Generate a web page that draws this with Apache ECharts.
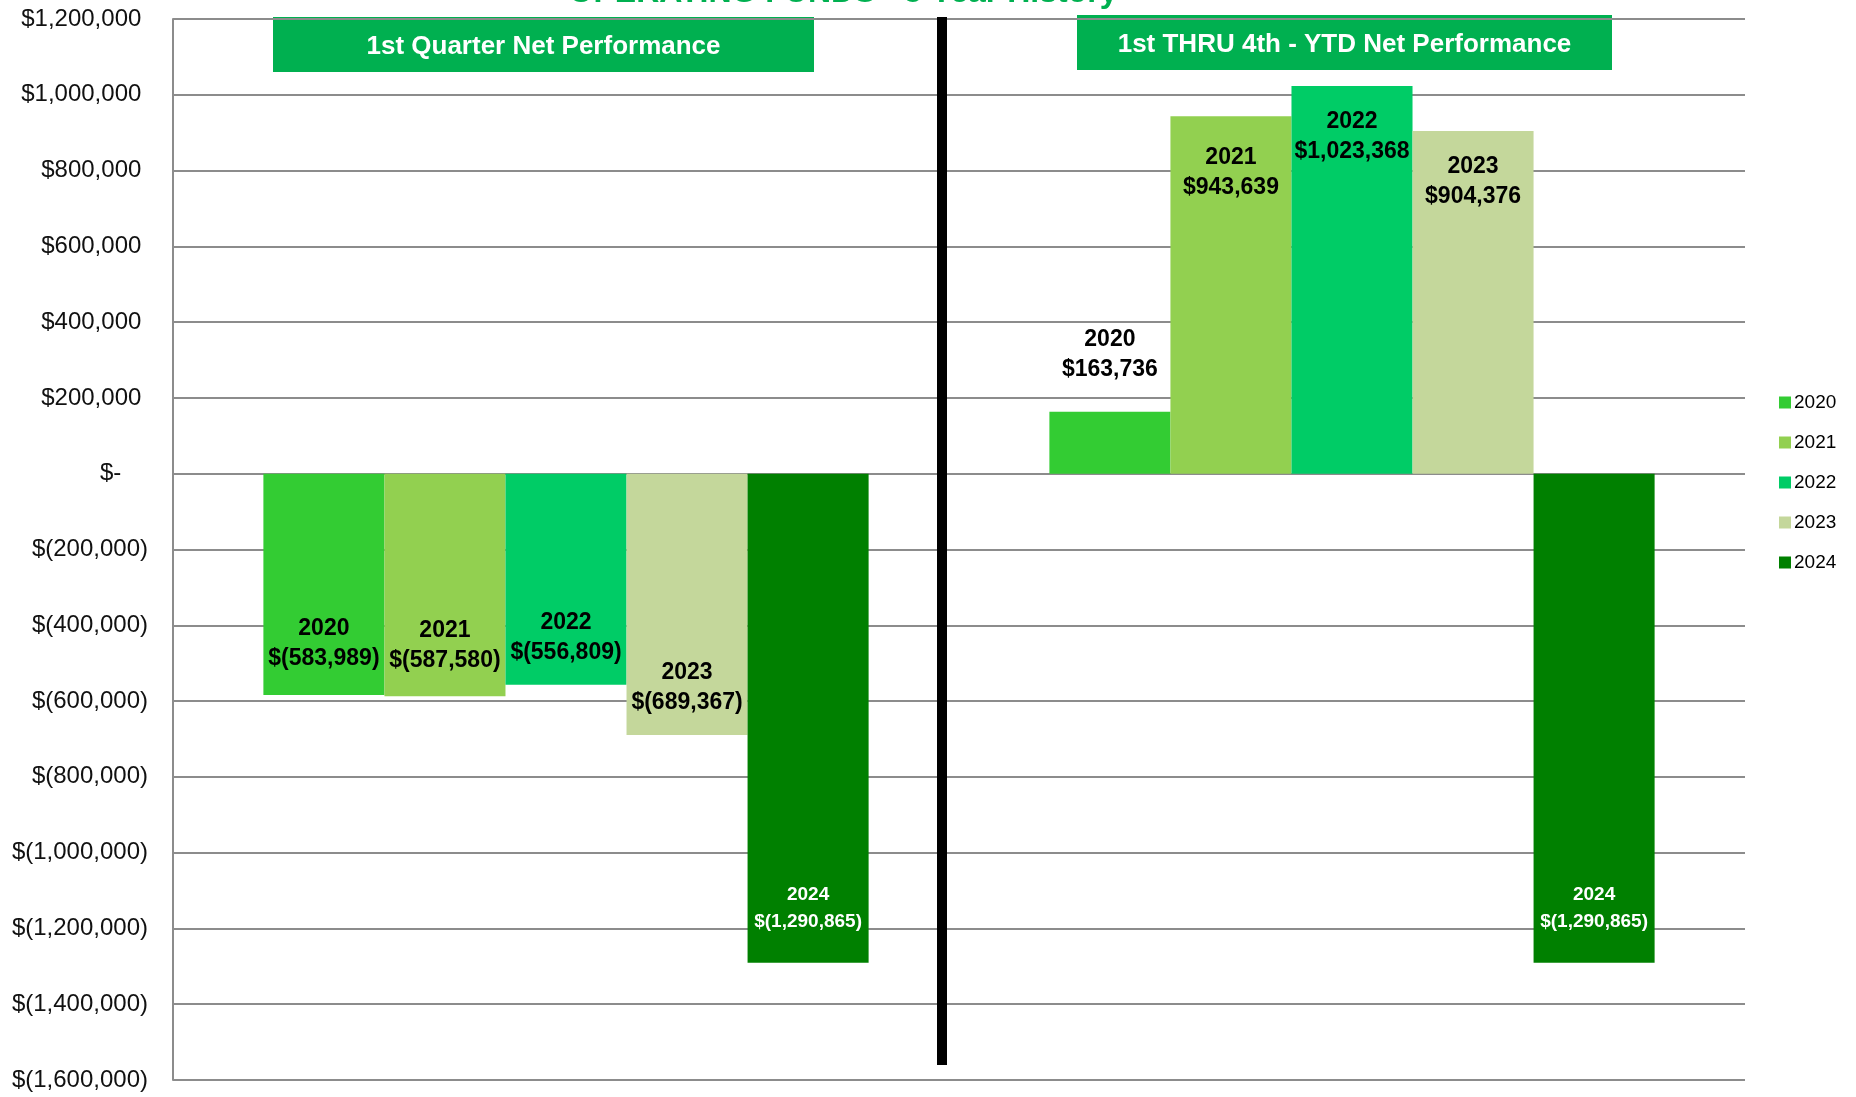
<!DOCTYPE html>
<html>
<head>
<meta charset="utf-8">
<title>Operating Funds - 5 Year History</title>
<script src="https://cdn.jsdelivr.net/npm/echarts@6/dist/echarts.min.js"></script>
<style>
  html, body { margin: 0; padding: 0; background: #fff; }
  #chart { width: 1856px; height: 1097px; }
</style>
</head>
<body>
<div id="chart"></div>
<script>
// ── data ────────────────────────────────────────────────
const periods = ['1st Quarter Net Performance', '1st THRU 4th - YTD Net Performance']
const years   = ['2020', '2021', '2022', '2023', '2024']
const q1Net   = [-583989, -587580, -556809, -689367, -1290865]
const ytdNet  = [163736, 943639, 1023368, 904376, -1290865]
const yTicks  = [1200000, 1000000, 800000, 600000, 400000, 200000, 0,
                 -200000, -400000, -600000, -800000, -1000000, -1200000, -1400000, -1600000]

// ── styles ──────────────────────────────────────────────
const COLORS = ['#33cc33', '#92d050', '#00cc66', '#c4d79b', '#008000']
const GREEN  = '#00b050'
const FONT   = '"Liberation Sans Narrow", "Liberation Sans", Arial, sans-serif'

// Excel accounting style: $1,200,000 / $(200,000) / $-
function money(v) {
  if (v === 0) return '$-'
  const s = Math.abs(v).toLocaleString('en-US')
  return v < 0 ? '$(' + s + ')' : '$' + s
}

function barLabel(v, yi, ci) {
  const dark = yi === 4
  let position = v < 0 ? 'insideBottom' : 'insideTop'
  let distance = dark ? 28 : 21
  if (ci === 1 && yi === 0) { position = 'top'; distance = 27 }
  if (ci === 1 && yi === 1) distance = 27
  if (ci === 0 && (yi === 2 || yi === 3)) distance = 17
  return {
    show: true,
    position,
    distance,
    formatter: years[yi] + '\n' + money(v),
    color: dark ? '#fff' : '#000',
    fontFamily: FONT,
    fontWeight: 'bold',
    fontSize: dark ? 19 : 23,
    lineHeight: dark ? 27 : 30,
  }
}

const series = years.map((y, yi) => ({
  name: y,
  type: 'bar',
  barGap: '0%',
  barCategoryGap: '23%',
  itemStyle: { color: COLORS[yi] },
  data: [q1Net[yi], ytdNet[yi]].map((v, ci) => ({ value: v, label: barLabel(v, yi, ci) })),
}))

const chart = echarts.init(document.getElementById('chart'))
chart.setOption({
  backgroundColor: '#fff',
  animation: false,
  grid: { left: 173, right: 111, top: 19, bottom: 17 },
  legend: {
    orient: 'vertical',
    left: 1774,
    top: 388,
    itemWidth: 12,
    itemHeight: 12,
    itemGap: 21,
    icon: 'rect',
    data: years,
    textStyle: { fontFamily: FONT, fontSize: 19, color: '#000', padding: [0, 0, 0, -2] },
  },
  xAxis: {
    type: 'category',
    data: periods,
    axisLine: { show: false },
    axisTick: { show: false },
    axisLabel: { show: false },
  },
  yAxis: {
    type: 'value',
    min: yTicks[yTicks.length - 1],
    max: yTicks[0],
    interval: 200000,
    axisLine: { show: true, lineStyle: { color: '#8c8c8c', width: 2 } },
    axisTick: { show: false },
    axisLabel: {
      margin: 25,
      fontFamily: FONT,
      fontSize: 24,
      color: '#111',
      formatter: v => v > 0 ? money(v) + ' ' : (v === 0 ? money(v) + '    ' : money(v)),
    },
    splitLine: { lineStyle: { color: '#8c8c8c', width: 2 } },
  },
  graphic: [
    {
      type: 'text', z: 10,
      style: {
        text: 'OPERATING FUNDS - 5 Year History',
        x: 843, y: 9,
        fill: GREEN,
        font: 'bold 32px ' + FONT,
        textAlign: 'center',
        textVerticalAlign: 'bottom',
      },
    },
    {
      type: 'rect', z: 10,
      shape: { x: 937, y: 17, width: 10, height: 1048 },
      style: { fill: '#000' },
    },
    {
      type: 'group', z: 10,
      children: [
        { type: 'rect', shape: { x: 273, y: 17, width: 541, height: 55 }, style: { fill: GREEN } },
        { type: 'text', style: { x: 543.5, y: 47, text: periods[0], fill: '#fff',
            font: 'bold 26px ' + FONT, textAlign: 'center', textVerticalAlign: 'middle' } },
        { type: 'rect', shape: { x: 1077, y: 15, width: 535, height: 55 }, style: { fill: GREEN } },
        { type: 'text', style: { x: 1344.5, y: 45, text: periods[1], fill: '#fff',
            font: 'bold 26px ' + FONT, textAlign: 'center', textVerticalAlign: 'middle' } },
      ],
    },
  ],
  series,
})
</script>
</body>
</html>
